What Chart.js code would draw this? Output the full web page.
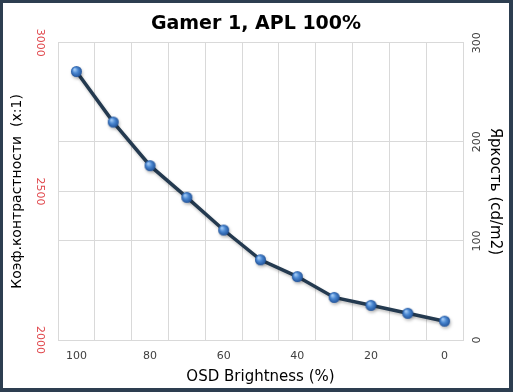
<!DOCTYPE html>
<html>
<head>
<meta charset="utf-8">
<script src="https://cdn.jsdelivr.net/npm/chart.js@4"></script>
<style>
  html, body { margin: 0; padding: 0; background: #ffffff; }
  #frame {
    width: 513px; height: 392px; box-sizing: border-box;
    border-style: solid; border-color: #2d3e50;
    border-width: 3px 4px 4px 3px;
    background: #ffffff;
  }
  #chart { display: block; }
</style>
</head>
<body>
<div id="frame"><canvas id="chart" width="506" height="385"></canvas></div>
<script>
// Données
const osdLevels = ['100', '90', '80', '70', '60', '50', '40', '30', '20', '10', '0'];
const brightness = [271, 220, 176, 144, 111, 81, 64, 43, 35, 27, 19];
const contrastTicks = [2000, 2500, 3000];
const brightnessTicks = [0, 100, 200, 300];

// petite sphère bleue pour les points
function makeSphere(r) {
  const c = document.createElement('canvas');
  c.width = c.height = r * 2 + 2;
  const g = c.getContext('2d');
  const cx = r + 1, cy = r + 1;
  const grad = g.createRadialGradient(cx - r * 0.35, cy - r * 0.4, r * 0.1, cx, cy, r);
  grad.addColorStop(0, '#a4cbf5');
  grad.addColorStop(0.45, '#4b88d2');
  grad.addColorStop(1, '#21539a');
  g.fillStyle = grad;
  g.beginPath();
  g.arc(cx, cy, r, 0, Math.PI * 2);
  g.fill();
  return c;
}
const sphere = makeSphere(5.5);

// ombre sous la courbe
const shadowPlugin = {
  id: 'shadow',
  beforeDatasetDraw(chart) {
    const ctx = chart.ctx;
    ctx.save();
    ctx.shadowColor = 'rgba(0,0,0,0.25)';
    ctx.shadowBlur = 3;
    ctx.shadowOffsetX = 1;
    ctx.shadowOffsetY = 2;
  },
  afterDatasetDraw(chart) {
    chart.ctx.restore();
  }
};

const ctx = document.getElementById('chart').getContext('2d');
new Chart(ctx, {
  type: 'line',
  data: {
    labels: osdLevels,
    datasets: [{
      label: 'Яркость',
      data: brightness,
      yAxisID: 'y1',
      borderColor: '#243a50',
      borderWidth: 3.5,
      tension: 0,
      pointStyle: sphere,
      pointRadius: 5.5,
      pointHoverRadius: 5.5,
    }]
  },
  options: {
    responsive: false,
    animation: false,
    layout: { padding: 0 },
    plugins: {
      legend: { display: false },
      tooltip: { enabled: false },
      title: {
        display: true,
        text: 'Gamer 1, APL 100%',
        color: '#000000',
        font: { family: 'DejaVu Sans', size: 19, weight: 'bold' },
        padding: { top: 10, bottom: 7 },
      },
    },
    scales: {
      x: {
        type: 'category',
        offset: true,
        grid: { offset: true, color: '#d9d9d9', drawTicks: false },
        border: { color: '#d9d9d9' },
        ticks: {
          autoSkip: false,
          maxRotation: 0,
          padding: 10,
          color: '#404040',
          font: { family: 'DejaVu Sans', size: 11 },
          callback: (v, i) => (i % 2 === 0 ? osdLevels[i] : ''),
        },
        title: {
          display: true,
          text: 'OSD Brightness (%)',
          color: '#000000',
          font: { family: 'DejaVu Sans', size: 15 },
          padding: { top: 3, bottom: 2 },
        },
        afterFit: s => { s.height = 48; },
      },
      y: {
        position: 'left',
        min: contrastTicks[0],
        max: contrastTicks[contrastTicks.length - 1],
        afterBuildTicks: s => { s.ticks = contrastTicks.map(v => ({ value: v })); },
        grid: { color: '#d9d9d9', drawTicks: false },
        border: { color: '#d9d9d9' },
        ticks: {
          minRotation: -90,
          maxRotation: -90,
          crossAlign: 'center',
          padding: 4,
          color: '#e0474c',
          font: { family: 'DejaVu Sans', size: 11 },
          callback: v => String(v),
        },
        title: {
          display: true,
          text: 'Коэф.контрастности  (x:1)',
          color: '#000000',
          font: { family: 'DejaVu Sans', size: 14 },
          padding: { top: 6, bottom: 2 },
        },
        afterFit: s => { s.width = 55; },
      },
      y1: {
        position: 'right',
        min: brightnessTicks[0],
        max: brightnessTicks[brightnessTicks.length - 1],
        afterBuildTicks: s => { s.ticks = brightnessTicks.map(v => ({ value: v })); },
        grid: { color: '#d9d9d9', drawTicks: false },
        border: { color: '#d9d9d9' },
        ticks: {
          minRotation: 90,
          maxRotation: 90,
          crossAlign: 'center',
          padding: 4,
          color: '#404040',
          font: { family: 'DejaVu Sans', size: 11 },
          callback: v => String(v),
        },
        title: {
          display: true,
          text: 'Яркость (cd/m2)',
          color: '#000000',
          font: { family: 'DejaVu Sans', size: 15 },
          padding: { top: 5, bottom: 2 },
        },
        afterFit: s => { s.width = 46; },
      },
    },
  },
  plugins: [shadowPlugin],
});
</script>
</body>
</html>
